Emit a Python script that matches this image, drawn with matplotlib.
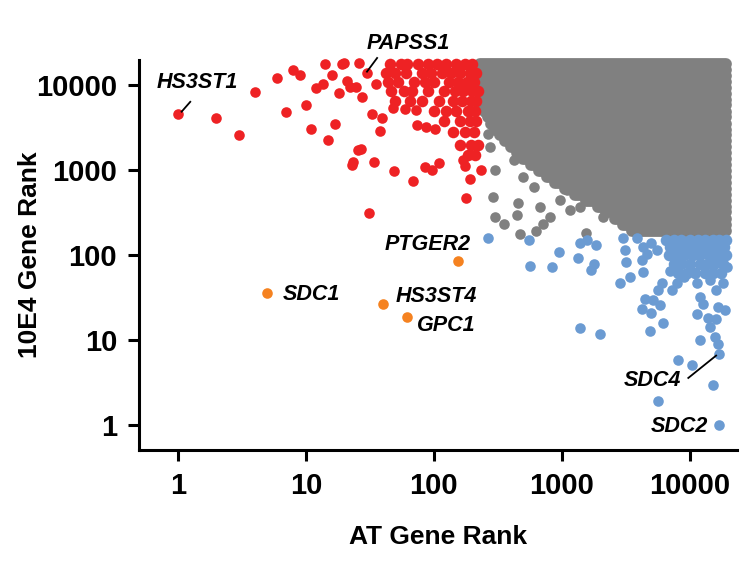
import matplotlib.pyplot as plt
import matplotlib
matplotlib.rcParams.update({'font.family': ['Liberation Sans', 'DejaVu Sans']})

# -----------------------------------------------------------#
# Data
# -----------------------------------------------------------#
red_x = [1, 2, 3, 4, 6, 7, 8, 9, 10, 11, 12, 13.5, 14, 15, 16, 17, 18, 19, 20, 21, 22, 24.5, 26, 27.5, 30,
         27, 25.5, 23, 23.5, 31, 33, 34, 35, 38, 39, 49, 69, 85, 96, 110, 178, 192, 170, 175, 234,
         48, 59, 72, 74, 86, 102]
red_y = [4550, 4150, 2600, 8300, 12200, 4900, 15200, 13100, 5900, 3070, 9300, 10500, 18000, 2300, 13300, 3550,
         8100, 18000, 18500, 11300, 9500, 9600, 18300, 7300, 14100,
         1800, 1750, 1150, 1250, 316, 4650, 1240, 10500, 2880, 4150, 980, 745, 1100, 1020, 1230, 470, 790,
         1310, 1130, 1020, 5350, 5200, 5100, 3380, 3250, 3100]
# dense red block, one list of x per y row
red_rows_y = [18000, 14000, 11000, 8500, 6500, 5000, 3800, 2800, 2000, 1500]
red_rows_x = [[45, 55, 62, 75, 90, 105, 125, 150, 175, 200],
              [42, 50, 60, 80, 95, 115, 135, 160, 190, 215],
              [44, 52, 70, 85, 100, 130, 155, 180, 205],
              [46, 58, 68, 90, 120, 145, 170, 200, 220],
              [50, 65, 80, 110, 140, 165, 195, 215],
              [100, 125, 150, 185, 210],
              [120, 160, 190, 215],
              [140, 175, 205],
              [160, 195, 220],
              [185, 210]]

# dense gray cloud as rows (y, left edge, right edge)
gray_rows_y = [17800, 15100, 12900, 11000, 9300, 7900, 6800, 5800, 4900, 4200, 3550, 3020, 2570, 2190,
               1860, 1590, 1350, 1150, 980, 830, 710, 600, 510, 440, 370, 320, 270, 230, 195]
gray_rows_xmin = [230, 230, 230, 230, 230, 232, 235, 240, 250, 265, 280, 300, 330, 360,
                  400, 445, 500, 570, 660, 760, 890, 1050, 1260, 1550, 1900, 2200, 2600, 3000, 3550]
gray_rows_xmax = [19000] * 29
gray_x = [290, 300, 350, 470, 455, 445, 275, 265, 300, 560, 630, 710, 810, 675, 600, 960, 1150, 1550,
          1380, 1870, 2400, 2100, 3000, 3600, 2700, 1090, 500, 420]
gray_y = [490, 280, 235, 180, 410, 295, 1870, 2700, 1000, 1440, 195, 235, 280, 370, 630, 450, 340, 185,
          370, 540, 410, 280, 235, 340, 690, 580, 830, 1320]

blue_x = [265, 550, 560, 835, 955, 1340, 1380, 1570, 1850, 1780, 1700, 1380, 1980, 3000, 3100, 3170, 2830, 3400,
          3830, 4300, 4200, 4600, 5000, 5500, 4300, 4450, 4200, 5150, 5650, 6000, 5000, 5850, 6200, 4900,
          7200, 7850, 6950, 8900, 10000, 11300, 12000, 12600, 14400, 16100, 16600, 18200, 19400, 18800,
          16100, 14400, 15700, 16600, 12000, 11300, 13800, 17000, 10300, 8100, 15200, 5650, 17000]
blue_y = [158, 150, 74, 72, 110, 94, 138, 152, 131, 79, 68, 14, 12, 158, 115, 83, 47, 56,
          158, 126, 87, 104, 138, 115, 63, 31, 23.5, 29.5, 39, 47, 21, 26, 16, 13,
          39, 47, 66, 56, 79, 47, 32, 27, 51, 39, 24.5, 47, 72, 22.5,
          18, 14.5, 11, 9.1, 10, 20.5, 18.5, 6.9, 5.1, 5.9, 3.0, 1.95, 1.0]
blue_rows_y = [150, 125, 100, 80, 62]
blue_rows_x = [[6500, 7500, 8500, 10000, 11500, 13000, 15000, 17000, 19000],
               [7000, 8000, 9500, 11000, 12500, 14000, 16000, 18500],
               [6800, 7800, 9000, 10500, 12000, 14000, 16500, 19000],
               [7500, 8500, 10000, 12000, 13500, 15500, 18000],
               [8000, 9500, 11000, 13000, 15000, 17500]]

orange_x = [5, 40, 62, 155]
orange_y = [36, 27, 19, 86]

# labels: (text, text x, text y, line from, line to)
labels = [("HS3ST1", 1.41, 10800, (1.07, 4900), (1.25, 6400)),
          ("PAPSS1", 63, 31000, (30, 14500), (36, 21000)),
          ("PTGER2", 89, 134, None, None),
          ("SDC1", 11, 35, None, None),
          ("HS3ST4", 105, 32.5, None, None),
          ("GPC1", 124, 15, None, None),
          ("SDC4", 5050, 3.4, (9700, 3.6), (16000, 6.6)),
          ("SDC2", 8300, 0.96, None, None)]

RED = "#EE2224"; GRAY = "#808080"; BLUE = "#6B9BD2"; ORANGE = "#F58220"
S = 58

fig = plt.figure(figsize=(7.49, 5.64), dpi=100)
ax = fig.add_axes([0.186, 0.202, 0.798, 0.692])
ax.set_xscale('log'); ax.set_yscale('log')

ax.hlines(gray_rows_y, gray_rows_xmin, gray_rows_xmax, colors=GRAY, linewidth=8.5,
          capstyle='round', zorder=2, clip_on=False)
ax.scatter(gray_x, gray_y, s=S, c=GRAY, linewidths=0, zorder=2, clip_on=False)

for yy, xs in zip(red_rows_y, red_rows_x):
    ax.scatter(xs, [yy] * len(xs), s=S * 1.2, c=RED, linewidths=0, zorder=3, clip_on=False)
ax.scatter(red_x, red_y, s=S, c=RED, linewidths=0, zorder=3, clip_on=False)

for yy, xs in zip(blue_rows_y, blue_rows_x):
    ax.scatter(xs, [yy] * len(xs), s=S * 1.2, c=BLUE, linewidths=0, zorder=3, clip_on=False)
ax.scatter(blue_x, blue_y, s=S, c=BLUE, linewidths=0, zorder=3, clip_on=False)
ax.scatter(orange_x, orange_y, s=S, c=ORANGE, linewidths=0, zorder=3, clip_on=False)

for txt, tx, ty, p0, p1 in labels:
    ax.text(tx, ty, txt, fontsize=15.5, fontweight='bold', fontstyle='italic',
            ha='center', va='center', zorder=5, clip_on=False)
    if p0 is not None:
        ax.plot([p0[0], p1[0]], [p0[1], p1[1]], color='black', lw=1.3, zorder=5, clip_on=False)

ax.set_xlim(0.5, 23300)
ax.set_ylim(0.51, 20000)
ax.set_xticks([1, 10, 100, 1000, 10000])
ax.set_xticklabels(['1', '10', '100', '1000', '10000'])
ax.set_yticks([1, 10, 100, 1000, 10000])
ax.set_yticklabels(['1', '10', '100', '1000', '10000'])
ax.minorticks_off()
ax.tick_params(width=2.2, length=8, labelsize=21, pad=8)
for lab in ax.get_xticklabels() + ax.get_yticklabels():
    lab.set_fontweight('bold')
for sp in ['top', 'right']:
    ax.spines[sp].set_visible(False)
for sp in ['left', 'bottom']:
    ax.spines[sp].set_linewidth(2.2)
ax.set_xlabel("AT Gene Rank", fontsize=19, fontweight='bold', labelpad=18)
ax.set_ylabel("10E4 Gene Rank", fontsize=19, fontweight='bold', labelpad=-4)

plt.savefig("out.png", dpi=100)
